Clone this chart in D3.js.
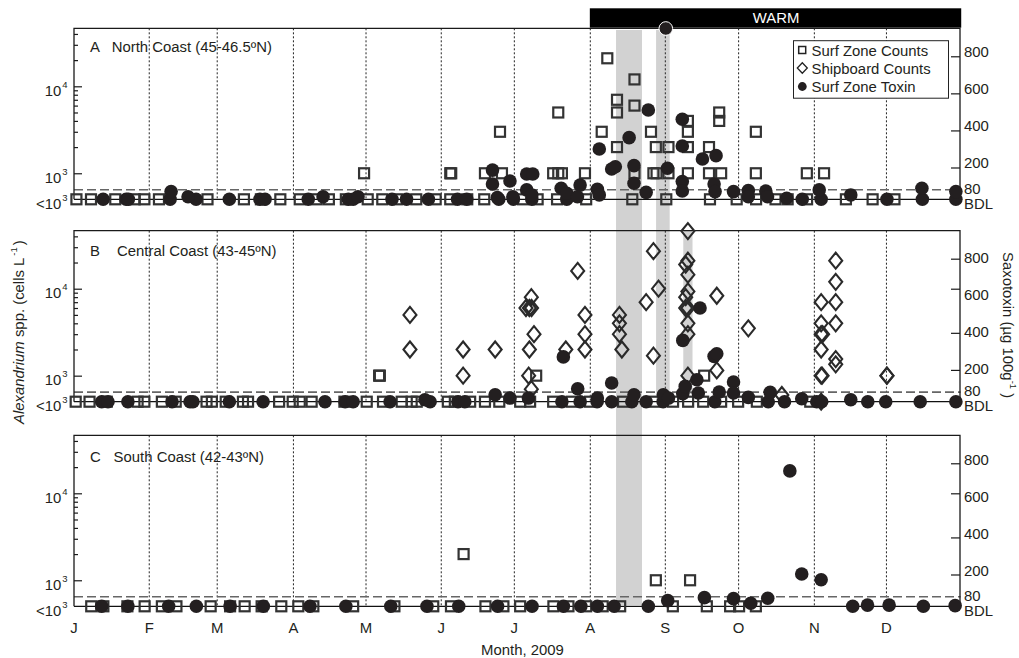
<!DOCTYPE html>
<html>

<head>
  <meta charset="utf-8">
  <title>Alexandrium and saxotoxin, 2009</title>
  <script src="https://d3js.org/d3.v7.min.js"></script>
  <style>
    body { margin: 0; background: white; }
    text { font-family: "Liberation Sans", Arial, sans-serif; font-size: 14.9px; fill: #231f20; }
    .sup { font-size: 9.5px; }
    .frame { fill: none; stroke: #1a1a1a; stroke-width: 1.3; }
    .grid { stroke: #222; stroke-width: 1; stroke-dasharray: 2 2; }
    .limit { stroke: #666; stroke-width: 1.6; stroke-dasharray: 9 4; }
    .bdl { stroke: #111; stroke-width: 1.3; }
    .surf { fill: none; stroke: #333; stroke-width: 2.2; }
    .ship { fill: none; stroke: #2a2a2a; stroke-width: 2.1; }
    .toxin { fill: #231f20; }
    .axis line { stroke: #1a1a1a; stroke-width: 1.2; }
    .axis path { stroke: none; }
  </style>
</head>

<body>
  <svg id="chart" width="1019" height="658"></svg>

  <script>
    const monthLabels = ["J", "F", "M", "A", "M", "J", "J", "A", "S", "O", "N", "D"];
    const monthDays = [0, 31, 59, 90.4, 120.3, 151.3, 181.4, 212.7, 243.6, 273.8, 305, 334.7];

    const warmPeriod = [212.5, 365.5];
    const bandsAll = [[223.3, 234], [239.8, 245.4]];

    const countMajor = [1000, 10000];
    const countMinor = [2000, 3000, 4000, 5000, 6000, 7000, 8000, 9000, 20000, 30000, 40000];
    const toxinTickValues = [200, 400, 600, 800];

    // North coast: counts below detection (days), counts above ([day, cells/L])
    const northSurfBelow = [1, 7, 17, 25, 29, 35, 55, 70, 77, 85, 93, 100, 105, 112, 121, 127, 133, 141, 149, 155, 162, 169, 185, 191, 199, 211, 230, 244, 262, 273, 281, 289, 294, 302, 318, 329, 338];
    const northSurfAbove = [
      [119.5, 1000], [155, 1000], [155.4, 1000], [169.3, 1000], [176.3, 1000], [175.5, 3000],
      [197.4, 1000], [199.5, 1000], [201, 1000], [199.5, 5000], [210.5, 1000], [217.4, 3000], [219.7, 21000],
      [223.7, 7000], [223.7, 5000], [223.7, 2000], [230.9, 12000], [230.9, 6000], [230.9, 1000],
      [237.7, 3000], [238.7, 1000], [239.7, 2000], [240, 1000], [244.9, 2000], [244.9, 1000],
      [252.9, 4000], [252.9, 3000], [252.9, 2000], [252.9, 1000], [261.6, 2000], [261.6, 1000],
      [265.8, 5000], [265.8, 4000], [266.6, 1000], [280.9, 3000], [280.9, 1000], [301.9, 1000], [309, 1000]
    ];
    const northToxinBelow = [12, 21.5, 22.4, 39.6, 50.3, 64, 76.6, 78.7, 96.5, 113, 115, 131, 137, 146, 158, 161.8, 175, 181, 188.6, 203, 300, 307.8, 334.9, 349.5, 363.3];
    const northToxinAbove = [
      [40, 70], [47, 42], [102.6, 42], [117, 42], [172.4, 186], [172.4, 111], [174.4, 38], [179.6, 127], [180.8, 42],
      [186.5, 165], [186.5, 79], [189, 165], [188.6, 52], [200.7, 88], [203, 61], [208.5, 105], [207.4, 42],
      [215.6, 82], [216.4, 52], [216.4, 300], [221.5, 192], [223, 204], [228.7, 361], [230.7, 210], [230.7, 115],
      [235.7, 66], [236.6, 510], [243.8, 950], [244.5, 196], [250.6, 460], [250.6, 316], [250.6, 124], [250.6, 73],
      [258.9, 246], [264.5, 264], [263.7, 111], [264.1, 70], [271.7, 70], [277.8, 75], [277.8, 42],
      [285, 73], [285.7, 42], [293.6, 34], [307, 79], [320, 52], [349.3, 88], [363.3, 70]
    ];

    // Central coast
    const centralSurfBelow = [0.7, 6.4, 13.5, 26.2, 29, 36.2, 41.9, 54.6, 56.8, 62.5, 69.6, 71.7, 84.5, 90.1, 93, 97.9, 111.4, 120.6, 127.3, 135, 139.1, 141.2, 154, 156.9, 163.2, 169.3, 175.2, 183.8, 187.9, 197.4, 205, 212.6, 226.2, 239.4, 246.8, 253, 259.2, 266.6, 273.6, 281.3, 303.3];
    const centralSurfAbove = [[125.7, 1000], [126, 1000], [190.4, 1000], [259.6, 1000]];
    const centralShipBelow = [307.8];
    const centralShipAbove = [
      [138.4, 5000], [138.4, 2000], [160.3, 2000], [160.3, 1000], [173.5, 2000],
      [188.4, 8000], [186.2, 6000], [187.6, 6000], [188.5, 6000], [189.5, 3000], [187.6, 2000], [187.3, 1000], [188.4, 700],
      [202.6, 2000], [207.5, 16000], [210.5, 5000], [210.5, 3000], [210.5, 2000],
      [224.7, 5000], [224.7, 4000], [224.7, 3000], [225.7, 2000], [235.7, 7000], [238.7, 27000], [238.7, 1700], [240.8, 10000],
      [252.9, 46000], [252, 19000], [252.9, 21000], [252.9, 14500], [252.9, 9300], [252, 8000], [252, 6000], [252.9, 6000],
      [252.9, 4000], [252.9, 3000], [252.9, 1000], [264.8, 8300], [264.8, 1150], [277.8, 3500], [291.6, 600],
      [307.8, 7000], [307.8, 4000], [307.8, 3000], [308.4, 3000], [307.8, 2000], [307.8, 1000], [308.2, 1000],
      [313.8, 21000], [313.8, 12000], [313.8, 7000], [313.8, 4000], [313.8, 1550], [313.8, 1350], [334.9, 1000], [334.9, 1000]
    ];
    const centralToxinBelow = [11.4, 14, 22.2, 40.4, 47.8, 49, 64, 77.9, 103.4, 111.7, 115, 130.2, 146.7, 158.2, 161, 201, 208.5, 215.5, 221.5, 229.8, 235.7, 242.7, 264, 286, 292.7, 306, 308, 327, 334.4, 348.6, 363.3];
    const centralToxinAbove = [
      [144.6, 39], [173.5, 66], [179.6, 48], [187.2, 48], [201.6, 270], [207.5, 98], [215.6, 48], [221.5, 129], [230.7, 66],
      [242.8, 66], [244.9, 48], [250.8, 359], [250.8, 72], [251.8, 111], [256.6, 147], [257.2, 75], [257.9, 534],
      [263.7, 273], [264.8, 287], [265.8, 81], [271.7, 135], [271.7, 75], [277.8, 52], [286.8, 79], [299.8, 44], [320, 39]
    ];

    // South coast
    const southSurfBelow = [7.1, 12.1, 22, 29.1, 36.2, 42.2, 56.3, 64.3, 70.3, 77.3, 85.4, 92.4, 98.6, 115, 132, 148, 155.3, 169.5, 176.9, 183.8, 197.5, 203.7, 211, 217.8, 225, 246.7, 260.7, 270.3, 274, 280.9];
    const southSurfAbove = [[160.5, 2000], [239.7, 1000], [253.8, 1000]];
    const southToxinBelow = [11.4, 22.2, 39, 50.4, 64.3, 78, 97.2, 112, 130.5, 145.4, 158.5, 174.5, 188.7, 201.6, 208.8, 215.6, 222.5, 236.6, 320.8, 349.9];
    const southToxinAbove = [
      [244.6, 59], [259.7, 75], [271.7, 70], [278.8, 45], [285.8, 72], [294.9, 759], [299.8, 203],
      [307.8, 172], [326.9, 35], [335.8, 35], [363, 32]
    ];

    const belowCount = 502;   // where "<10^3" sits on the log axis
    const belowToxin = 28.4;  // where BDL sits on the toxin axis

    const left = 74, right = 960, panelHeight = 171;

    const svg = d3.select("#chart");
    const x = d3.scaleLinear().domain([0, 365]).range([left, right]);

    const diamond = "M0,-8L6.5,0L0,8L-6.5,0Z";

    const panels = [
      {
        top: 28.3, letter: "A", title: "North Coast (45-46.5ºN)", titleX: 111.7, titleY: 51.7,
        surfBelow: northSurfBelow, surfAbove: northSurfAbove, shipBelow: [], shipAbove: [],
        toxinBelow: northToxinBelow, toxinAbove: northToxinAbove,
        labelNudge: -4.5, mirrorTick: false
      },
      {
        top: 230.7, letter: "B", title: "Central Coast (43-45ºN)", titleX: 117, titleY: 255.7,
        surfBelow: centralSurfBelow, surfAbove: centralSurfAbove, shipBelow: centralShipBelow, shipAbove: centralShipAbove,
        toxinBelow: centralToxinBelow, toxinAbove: centralToxinAbove,
        labelNudge: -1, mirrorTick: true
      },
      {
        top: 435.3, letter: "C", title: "South Coast (42-43ºN)", titleX: 113.6, titleY: 461.7,
        surfBelow: southSurfBelow, surfAbove: southSurfAbove, shipBelow: [], shipAbove: [],
        toxinBelow: southToxinBelow, toxinAbove: southToxinAbove,
        labelNudge: -3, mirrorTick: true
      }
    ];

    // grey bands sit behind everything, the first one runs through all panels
    const bandLayer = svg.append("g");
    bandLayer.append("rect")
      .attr("x", x(bandsAll[0][0])).attr("width", x(bandsAll[0][1]) - x(bandsAll[0][0]))
      .attr("y", 30).attr("height", 575).attr("fill", "#d2d2d2");
    bandLayer.append("rect")
      .attr("x", x(bandsAll[1][0])).attr("width", x(bandsAll[1][1]) - x(bandsAll[1][0]))
      .attr("y", 30).attr("height", 372).attr("fill", "#d2d2d2");
    bandLayer.append("rect")
      .attr("x", x(251)).attr("width", x(254.8) - x(251))
      .attr("y", 231).attr("height", 163).attr("fill", "#d2d2d2");

    // warm period bar
    svg.append("rect")
      .attr("x", x(warmPeriod[0])).attr("width", x(warmPeriod[1]) - x(warmPeriod[0]))
      .attr("y", 8.3).attr("height", 19.4).attr("fill", "black");
    svg.append("text")
      .attr("x", 776).attr("y", 22.8).attr("text-anchor", "middle")
      .style("fill", "white").text("WARM");

    panels.forEach(drawPanel);

    function drawPanel(p) {
      const bottom = p.top + panelHeight;
      const yCount = d3.scaleLog().domain([belowCount, 46450]).range([bottom, p.top]);
      const yToxin = d3.scaleLinear().domain([belowToxin, 951]).range([bottom, p.top]);

      const g = svg.append("g");

      g.selectAll("line.grid").data(monthDays.slice(1)).join("line")
        .attr("class", "grid")
        .attr("x1", d => x(d)).attr("x2", d => x(d))
        .attr("y1", p.top).attr("y2", bottom);

      g.append("line").attr("class", "limit")
        .attr("x1", left).attr("x2", right + 0.5)
        .attr("y1", yToxin(80)).attr("y2", yToxin(80));

      g.append("line").attr("class", "bdl")
        .attr("x1", left).attr("x2", right)
        .attr("y1", bottom).attr("y2", bottom);

      g.append("path").attr("class", "frame")
        .attr("d", `M${left},${bottom}V${p.top}H${right}V${bottom}`);

      // left axis, ticks pointing in
      g.append("g").attr("class", "axis")
        .attr("transform", `translate(${left},0)`)
        .call(d3.axisRight(yCount).tickValues(countMajor).tickSize(8).tickFormat(""));
      g.append("g").attr("class", "axis")
        .attr("transform", `translate(${left},0)`)
        .call(d3.axisRight(yCount).tickValues(countMinor).tickSize(4).tickFormat(""));

      // right axis; in B and C the 600 tick sits level with 10^4
      const shownTicks = p.mirrorTick ? [200, 400, 800] : toxinTickValues;
      g.append("g").attr("class", "axis")
        .attr("transform", `translate(${right},0)`)
        .call(d3.axisLeft(yToxin).tickValues(shownTicks).tickSize(9).tickFormat(""));
      if (p.mirrorTick) {
        g.append("g").attr("class", "axis")
          .attr("transform", `translate(${right},0)`)
          .call(d3.axisLeft(yCount).tickValues([10000]).tickSize(9).tickFormat(""));
      }

      // left tick labels
      [[1000, "10", "3"], [10000, "10", "4"], [belowCount, "<10", "3"]].forEach(d => {
        const t = g.append("text").attr("x", 67.5).attr("y", yCount(d[0]) + 9.5).attr("text-anchor", "end");
        t.append("tspan").text(d[1]);
        t.append("tspan").attr("class", "sup").attr("dy", -8).attr("dx", 1).text(d[2]);
      });

      // right tick labels
      g.selectAll("text.tox").data(toxinTickValues).join("text")
        .attr("class", "tox")
        .attr("x", 964).attr("y", d => yToxin(d) + p.labelNudge + 5)
        .text(d => d);
      g.append("text").attr("x", 964).attr("y", yToxin(80) + 4).text("80");
      g.append("text").attr("x", 964).attr("y", bottom + 9.5).text("BDL");

      g.append("text").attr("x", 90).attr("y", p.titleY).text(p.letter);
      g.append("text").attr("x", p.titleX).attr("y", p.titleY).text(p.title);

      // marks: counts first, toxin on top
      const surf = p.surfBelow.map(d => [d, belowCount]).concat(p.surfAbove);
      g.selectAll("rect.surf").data(surf).join("rect")
        .attr("class", "surf")
        .attr("x", d => x(d[0]) - 5).attr("y", d => yCount(d[1]) - 5)
        .attr("width", 10).attr("height", 10);

      const ship = p.shipBelow.map(d => [d, belowCount]).concat(p.shipAbove);
      g.selectAll("path.ship").data(ship).join("path")
        .attr("class", "ship")
        .attr("d", diamond)
        .attr("transform", d => `translate(${x(d[0])},${yCount(d[1])})`);

      const toxin = p.toxinBelow.map(d => [d, belowToxin]).concat(p.toxinAbove);
      g.selectAll("circle.toxin").data(toxin).join("circle")
        .attr("class", "toxin")
        .attr("cx", d => x(d[0])).attr("cy", d => yToxin(d[1]))
        .attr("r", 6.8)
        .attr("stroke", d => d[1] > 900 ? "white" : "none")
        .attr("stroke-width", 1);
    }

    // legend
    const legend = svg.append("g");
    legend.append("rect")
      .attr("x", 793.5).attr("y", 40.7).attr("width", 155).attr("height", 57.5)
      .attr("fill", "white").attr("stroke", "#222").attr("stroke-width", 1);
    const legendNames = ["Surf Zone Counts", "Shipboard Counts", "Surf Zone Toxin"];
    legend.selectAll("text").data(legendNames).join("text")
      .attr("x", 811.5).attr("y", (d, i) => 55.5 + i * 18).text(d => d);
    legend.append("rect").attr("x", 798.7).attr("y", 46.5).attr("width", 7).attr("height", 7)
      .attr("fill", "none").attr("stroke", "#222").attr("stroke-width", 1.5);
    legend.append("path").attr("d", "M0,-5.3L5,0L0,5.3L-5,0Z").attr("transform", "translate(802.3,68)")
      .attr("fill", "none").attr("stroke", "#222").attr("stroke-width", 1.3);
    legend.append("circle").attr("cx", 802.3).attr("cy", 86.5).attr("r", 4.4).attr("fill", "#231f20");

    // x labels
    svg.selectAll("text.month").data(monthLabels).join("text")
      .attr("class", "month")
      .attr("x", (d, i) => x(monthDays[i])).attr("y", 633)
      .attr("text-anchor", "middle").text(d => d);
    svg.append("text").attr("x", 522.5).attr("y", 655).attr("text-anchor", "middle").text("Month, 2009");

    // y titles
    const leftTitle = svg.append("text").attr("transform", "translate(24,424) rotate(-90)");
    leftTitle.append("tspan").style("font-style", "italic").text("Alexandrium");
    leftTitle.append("tspan").text(" spp. (cells L");
    leftTitle.append("tspan").attr("class", "sup").attr("dy", -7).attr("dx", 2).text("-1");
    leftTitle.append("tspan").attr("dy", 7).attr("dx", 2).text(")");

    const rightTitle = svg.append("text").attr("transform", "translate(1003,252) rotate(90)");
    rightTitle.append("tspan").text("Saxotoxin (µg 100g");
    rightTitle.append("tspan").attr("class", "sup").attr("dy", -7).text("-1");
    rightTitle.append("tspan").attr("dy", 7).text(" )");
  </script>
</body>

</html>
